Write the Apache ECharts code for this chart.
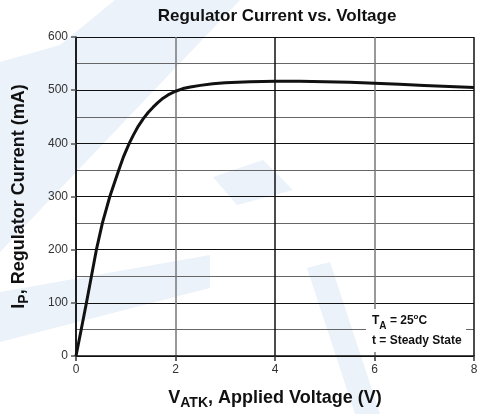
<!DOCTYPE html>
<html>
<head>
<meta charset="utf-8">
<script src="https://cdn.jsdelivr.net/npm/echarts@6/dist/echarts.min.js"></script>
<style>html,body{margin:0;padding:0;background:#fff}#c{width:477px;height:414px}</style>
</head>
<body>
<div id="c"></div>
<script>
var voltage = [0, 0.105, 0.21, 0.31, 0.41, 0.53, 0.68, 0.86, 0.96, 1.07, 1.15, 1.25, 1.35, 1.45, 1.55, 1.65, 1.75, 1.85, 2.0, 2.15, 2.3, 2.5, 2.75, 3.0, 3.5, 4.0, 4.5, 5.0, 5.5, 6.0, 6.5, 7.0, 7.5, 8.0];
var current = [0, 50, 100, 150, 200, 250, 300, 350, 376, 400, 415, 432, 446, 458, 468, 477, 485, 491, 498, 503, 506, 509, 512, 514, 516, 517, 517, 516, 515, 513, 511, 509, 507, 505];
var xTicks = [0, 2, 4, 6, 8];
var yTicks = [0, 100, 200, 300, 400, 500, 600];

var points = voltage.map(function (v, i) { return [v, current[i]]; });
var chart = echarts.init(document.getElementById('c'), null, {renderer: 'canvas'});
var wm = '#ebf2fa';
var FONT = 'Liberation Sans, Arial, sans-serif';
chart.setOption({
  backgroundColor: '#fff',
  animation: false,
  title: {
    text: 'Regulator Current vs. Voltage',
    left: 272, top: 3, textAlign: 'center',
    textStyle: {fontFamily: FONT, fontWeight: 'bold', fontSize: 17, color: '#111'}
  },
  graphic: [
    {type: 'polygon', z: -10, silent: true, shape: {points: [[115,0],[240,0],[0,252],[0,62],[60,45]]}, style: {fill: wm}},
    {type: 'polygon', z: -10, silent: true, shape: {points: [[0,292],[210,255],[210,288],[0,342]]}, style: {fill: wm}},
    {type: 'polygon', z: -10, silent: true, shape: {points: [[213,177],[263,160],[293,190],[237,205]]}, style: {fill: wm}},
    {type: 'polygon', z: -10, silent: true, shape: {points: [[307,268],[330,262],[380,414],[355,414]]}, style: {fill: wm}},
    {type: 'rect', z: 50, silent: true, shape: {x: 366, y: 309, width: 100, height: 43}, style: {fill: '#fff'}},
    {type: 'text', z: 51, silent: true, left: 372, top: 313,
      style: {
        text: '{b|T}{s|A}{b| = 25}{u|o}{b|C}',
        rich: {
          b: {fontFamily: FONT, fontWeight: 'bold', fontSize: 12, fill: '#111', verticalAlign: 'bottom'},
          s: {fontFamily: FONT, fontWeight: 'bold', fontSize: 10, fill: '#111', padding: [0,0,-4,0], verticalAlign: 'bottom'},
          u: {fontFamily: FONT, fontWeight: 'bold', fontSize: 8, fill: '#111', padding: [0,0,6,0], verticalAlign: 'bottom'}
        }
      }},
    {type: 'text', z: 51, silent: true, left: 372, top: 335,
      style: {text: 't = Steady State', fontFamily: FONT, fontWeight: 'bold', fontSize: 12, fill: '#111'}}
  ],
  grid: {left: 76, right: 3, top: 37, bottom: 58, outerBoundsMode: 'none', containLabel: false},
  xAxis: {
    type: 'value', min: 0, max: 8, interval: 2,
    name: '{b|V}{s|ATK}{b|, Applied Voltage (V)}',
    nameLocation: 'middle', nameGap: 30,
    nameTextStyle: {
      rich: {
        b: {fontFamily: FONT, fontWeight: 'bold', fontSize: 18, color: '#111'},
        s: {fontFamily: FONT, fontWeight: 'bold', fontSize: 14, color: '#111', padding: [10,0,0,0]}
      }
    },
    axisLine: {show: true, lineStyle: {color: '#111', width: 1.5}},
    axisTick: {show: true, length: 5, lineStyle: {color: '#333', width: 1.5}},
    axisLabel: {fontFamily: FONT, fontSize: 12, color: '#333', margin: 8,
      formatter: function (v) { return xTicks.indexOf(v) >= 0 ? String(v) : ''; }},
    splitLine: {show: true, lineStyle: {color: ['#111', '#777', '#111', '#777', '#111'], width: 1.5}}
  },
  yAxis: {
    type: 'value', min: 0, max: 600, interval: 100,
    name: '{b|I}{s|P}{b|, Regulator Current (mA)}',
    nameLocation: 'middle', nameGap: 45,
    nameTextStyle: {
      rich: {
        b: {fontFamily: FONT, fontWeight: 'bold', fontSize: 18, color: '#111'},
        s: {fontFamily: FONT, fontWeight: 'bold', fontSize: 14, color: '#111', padding: [10,0,0,0]}
      }
    },
    axisLine: {show: true, lineStyle: {color: '#111', width: 1.5}},
    axisTick: {show: true, length: 5, lineStyle: {color: '#555', width: 1.5}},
    axisLabel: {fontFamily: FONT, fontSize: 12, color: '#333', margin: 8,
      formatter: function (v) { return yTicks.indexOf(v) >= 0 ? String(v) : ''; }},
    splitLine: {show: true, lineStyle: {color: '#111', width: 1.2}},
    minorTick: {show: false, splitNumber: 2},
    minorSplitLine: {show: true, lineStyle: {color: '#666', width: 1.2}}
  },
  series: [{
    type: 'line', data: points, smooth: false,
    showSymbol: false, z: 10,
    lineStyle: {color: '#111', width: 3, join: 'round'}
  }]
});
</script>
</body>
</html>
